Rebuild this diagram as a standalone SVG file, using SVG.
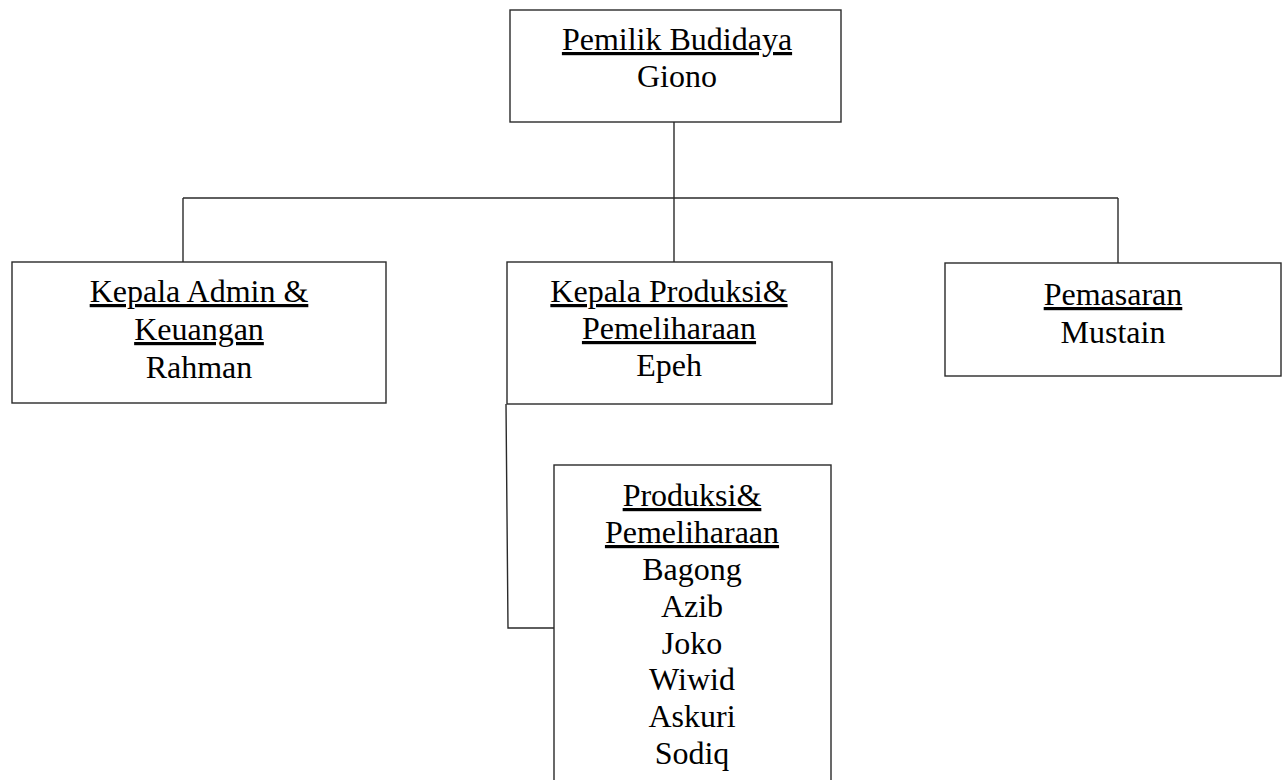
<svg xmlns="http://www.w3.org/2000/svg" width="1283" height="780" viewBox="0 0 1283 780">
<style>
.box{fill:#fff;stroke:#2a2a2a;stroke-width:1.4}
.ln{fill:none;stroke:#2a2a2a;stroke-width:1.4}
text{font-family:"Liberation Serif","Times New Roman",serif;font-size:32px;fill:#000;text-anchor:middle}
.u{text-decoration:underline}
</style>
<rect width="1283" height="780" fill="#fff"/>
<g id="connectors">
<path class="ln" d="M674,122 V262"/>
<path class="ln" d="M183,198 H1118"/>
<path class="ln" d="M183,198 V262"/>
<path class="ln" d="M1118,198 V263"/>
<path class="ln" d="M506,404 L508,628 H554"/>
</g>
<g id="pemilik">
<rect class="box" x="510" y="10" width="331" height="112"/>
<text x="677" y="50" class="u">Pemilik Budidaya</text>
<text x="677" y="87">Giono</text>
</g>
<g id="admin">
<rect class="box" x="12" y="262" width="374" height="141"/>
<text x="199" y="302" class="u">Kepala Admin &amp;</text>
<text x="199" y="340" class="u">Keuangan</text>
<text x="199" y="378">Rahman</text>
</g>
<g id="produksi">
<rect class="box" x="507" y="262" width="325" height="142"/>
<text x="669" y="302" class="u">Kepala Produksi&amp;</text>
<text x="669" y="339" class="u">Pemeliharaan</text>
<text x="669" y="376">Epeh</text>
</g>
<g id="pemasaran">
<rect class="box" x="945" y="263" width="336" height="113"/>
<text x="1113" y="305" class="u">Pemasaran</text>
<text x="1113" y="343">Mustain</text>
</g>
<g id="staf">
<rect class="box" x="554" y="465" width="277" height="330"/>
<text x="692" y="506" class="u">Produksi&amp;</text>
<text x="692" y="543" class="u">Pemeliharaan</text>
<text x="692" y="580">Bagong</text>
<text x="692" y="617">Azib</text>
<text x="692" y="654">Joko</text>
<text x="692" y="690">Wiwid</text>
<text x="692" y="727">Askuri</text>
<text x="692" y="764">Sodiq</text>
</g>
</svg>
